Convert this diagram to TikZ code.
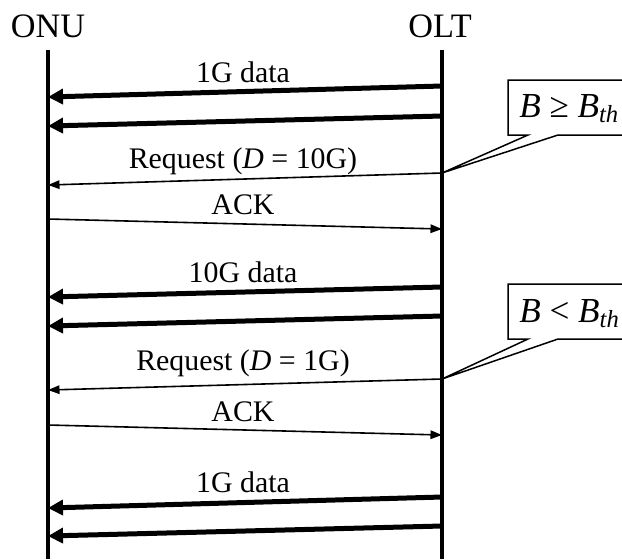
\documentclass[tikz,border=0pt]{standalone}
\usepackage{fontspec}
\setmainfont{Liberation Serif}
\usetikzlibrary{arrows.meta}

\tikzset{
  actor/.style={anchor=base, inner sep=0pt, font=\fontsize{19.5}{22}\selectfont},
  lbl/.style={anchor=base, inner sep=0pt, font=\fontsize{17}{20}\selectfont},
  lifeline/.style={line width=0.08cm},
  datamsg/.style={line width=0.1cm, -{Triangle[length=0.3cm, width=0.3cm]}},
  ctrlmsg/.style={line width=0.032cm, -{Triangle[length=0.23cm, width=0.17cm]}},
  callout/.style={draw, fill=white, line width=0.03cm, line join=miter},
  cond/.style={anchor=base west, inner sep=0pt, font=\fontsize{20}{22}\selectfont}
}

\begin{document}
\begin{tikzpicture}[x=0.02cm, y=-0.02cm]
  \useasboundingbox (0,0) rectangle (622,559);
  % stations
  \node[actor] (onulbl) at (48,37) {ONU}; \node[actor] (oltlbl) at (440,37) {OLT};
  \coordinate (onu) at (48,50); \coordinate (olt) at (442,50);
  % threshold notes
  \draw[callout] (640,80) -| (508,135) -- (528,135) -- (olt |- 0,173) -- (558,135) -- (640,135);
  \node[cond] (bhigh) at (519,117) {\textit{B} ≥ \textit{B}\textsubscript{\textit{th}}};
  \draw[callout] (640,284) -| (508,339) -- (528,339) -- (olt |- 0,379) -- (558,339) -- (640,339);
  \node[cond] (blow) at (519,322) {\textit{B} < \textit{B}\textsubscript{\textit{th}}};
  \draw[lifeline] (onu) -- (onu |- 0,559); \draw[lifeline] (olt) -- (olt |- 0,559);
  % 1G phase
  \node[lbl] (data1) at (243,82) {1G data};
  \draw[datamsg] (olt |- 0,86) -- (onu |- 0,97); \draw[datamsg] (olt |- 0,116) -- (onu |- 0,126);
  \node[lbl] (req1) at (243,168) {Request (\textit{D} = 10G)};
  \draw[ctrlmsg] (olt |- 0,173) -- (onu |- 0,185);
  \node[lbl] (ack1) at (243,214) {ACK};
  \draw[ctrlmsg] (onu |- 0,219) -- (olt |- 0,229);
  % 10G phase
  \node[lbl] (data2) at (243,282) {10G data};
  \draw[datamsg] (olt |- 0,287) -- (onu |- 0,297); \draw[datamsg] (olt |- 0,316) -- (onu |- 0,326);
  \node[lbl] (req2) at (243,370) {Request (\textit{D} = 1G)};
  \draw[ctrlmsg] (olt |- 0,379) -- (onu |- 0,390);
  \node[lbl] (ack2) at (243,421) {ACK};
  \draw[ctrlmsg] (onu |- 0,425) -- (olt |- 0,435);
  % back to 1G
  \node[lbl] (data3) at (243,492) {1G data};
  \draw[datamsg] (olt |- 0,497) -- (onu |- 0,508); \draw[datamsg] (olt |- 0,526) -- (onu |- 0,536);
\end{tikzpicture}
\end{document}
